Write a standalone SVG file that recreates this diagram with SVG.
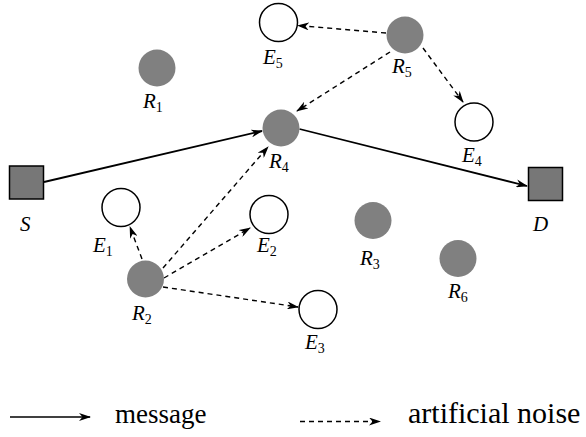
<svg xmlns="http://www.w3.org/2000/svg" width="586" height="437" viewBox="0 0 586 437">
<style>
.relay{fill:#808080;stroke:none}
.eve{fill:#fff;stroke:#000;stroke-width:1.5}
.term{fill:#777;stroke:#000;stroke-width:1.5}
text{font-family:'Liberation Serif','Times New Roman','DejaVu Serif',serif;fill:#000}
.lbl{font-style:italic;font-size:21px}
.sub{font-size:14px;font-style:normal}
.msg{fill:none;stroke:#000;stroke-width:1.8;marker-end:url(#ah)}
.ns{fill:none;stroke:#000;stroke-width:1.4;stroke-dasharray:5,4;marker-end:url(#ah)}
</style>
<defs>
<marker id="ah" markerUnits="userSpaceOnUse" markerWidth="12" markerHeight="8" refX="11" refY="4" orient="auto" viewBox="0 0 12 8">
<path d="M0,0 L12,4 L0,8 L3.5,4 Z" fill="#000"/>
</marker>
</defs>
<g id="connectors">
<line class="msg" x1="44" y1="182" x2="262" y2="131"/>
<line class="msg" x1="299.5" y1="129" x2="527" y2="186"/>
<line class="ns" x1="386" y1="33" x2="298" y2="25.5"/>
<line class="ns" x1="390" y1="52" x2="297" y2="111"/>
<line class="ns" x1="423" y1="48" x2="463" y2="102"/>
<line class="ns" x1="142" y1="259" x2="130" y2="227"/>
<line class="ns" x1="163" y1="268" x2="268" y2="147"/>
<line class="ns" x1="164" y1="278" x2="250" y2="228"/>
<line class="ns" x1="163" y1="287" x2="298" y2="307"/>
</g>
<g id="S"><rect class="term" x="9.5" y="166" width="34" height="33"/><text class="lbl" x="20" y="231">S</text></g>
<g id="D"><rect class="term" x="528.5" y="167.5" width="34" height="33"/><text class="lbl" x="533" y="231">D</text></g>
<g id="R1"><circle class="relay" cx="157" cy="68" r="18.5"/><text class="lbl" x="143" y="108">R<tspan class="sub" dy="4">1</tspan></text></g>
<g id="R2"><circle class="relay" cx="145.5" cy="279" r="18.5"/><text class="lbl" x="132" y="320">R<tspan class="sub" dy="4">2</tspan></text></g>
<g id="R3"><circle class="relay" cx="373" cy="220.5" r="18.5"/><text class="lbl" x="360" y="265">R<tspan class="sub" dy="4">3</tspan></text></g>
<g id="R4"><circle class="relay" cx="281" cy="128" r="18.5"/><text class="lbl" x="269" y="168">R<tspan class="sub" dy="4">4</tspan></text></g>
<g id="R5"><circle class="relay" cx="405" cy="35" r="18.5"/><text class="lbl" x="392" y="73">R<tspan class="sub" dy="4">5</tspan></text></g>
<g id="R6"><circle class="relay" cx="458" cy="258.5" r="18.5"/><text class="lbl" x="448" y="298">R<tspan class="sub" dy="4">6</tspan></text></g>
<g id="E1"><circle class="eve" cx="121" cy="207.5" r="19"/><text class="lbl" x="93" y="252">E<tspan class="sub" dy="4">1</tspan></text></g>
<g id="E2"><circle class="eve" cx="269" cy="214.5" r="19"/><text class="lbl" x="257" y="252">E<tspan class="sub" dy="4">2</tspan></text></g>
<g id="E3"><circle class="eve" cx="318" cy="309.5" r="19"/><text class="lbl" x="305" y="349">E<tspan class="sub" dy="4">3</tspan></text></g>
<g id="E4"><circle class="eve" cx="474" cy="122" r="19"/><text class="lbl" x="462" y="162">E<tspan class="sub" dy="4">4</tspan></text></g>
<g id="E5"><circle class="eve" cx="278.5" cy="22.5" r="19"/><text class="lbl" x="263" y="64">E<tspan class="sub" dy="4">5</tspan></text></g>
<g id="legend">
<line class="msg" x1="10" y1="417" x2="90" y2="417" style="stroke-width:1.5"/>
<text x="115" y="423" font-size="27">message</text>
<line class="ns" x1="300" y1="421.5" x2="380" y2="421.5"/>
<text x="408" y="423" font-size="30">artificial noise</text>
</g>
</svg>
